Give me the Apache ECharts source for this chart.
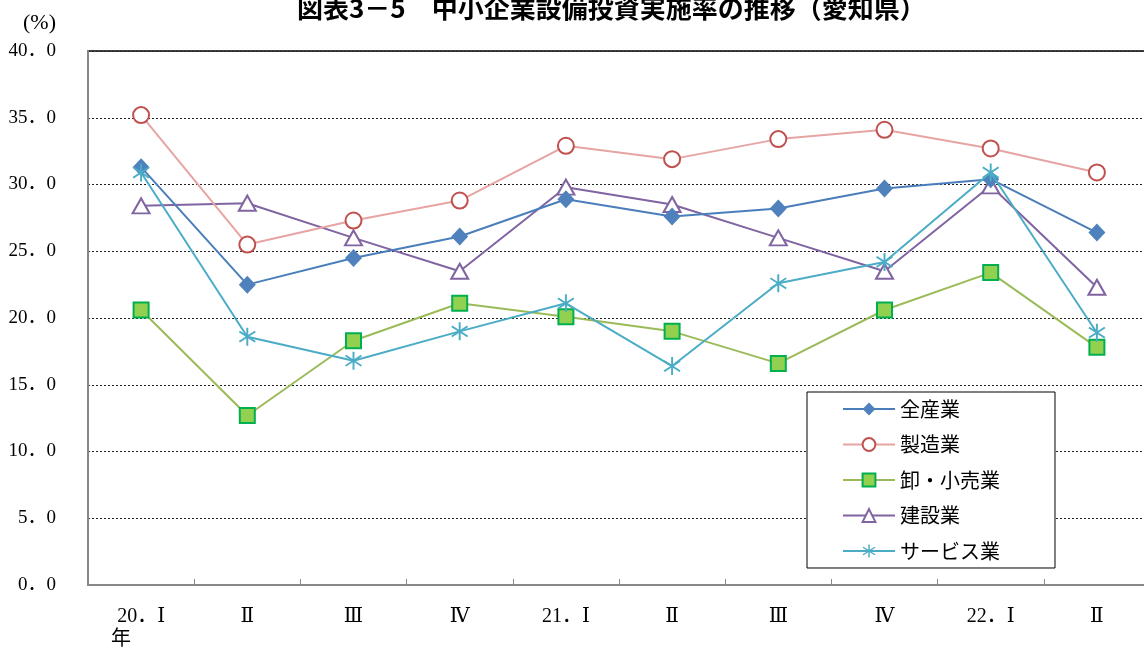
<!DOCTYPE html>
<html><head><meta charset="utf-8">
<script src="https://cdn.jsdelivr.net/npm/echarts@6/dist/echarts.min.js"></script>
<style>html,body{margin:0;padding:0;background:#fff}#c{width:1144px;height:648px}</style>
</head><body><div id="c"></div>
<script>
const titleText = '図表3－5　中小企業設備投資実施率の推移（愛知県）';
const unitText = '(%)';
const categories = ['20．Ⅰ\n年　　', 'Ⅱ', 'Ⅲ', 'Ⅳ', '21．Ⅰ', 'Ⅱ', 'Ⅲ', 'Ⅳ', '22．Ⅰ', 'Ⅱ'];
const seriesNames = ['全産業', '製造業', '卸・小売業', '建設業', 'サービス業'];
const allIndustry   = [31.3, 22.5, 24.5, 26.1, 28.9, 27.6, 28.2, 29.7, 30.4, 26.4];
const manufacturing = [35.2, 25.5, 27.3, 28.8, 32.9, 31.9, 33.4, 34.1, 32.7, 30.9];
const wholesale     = [20.6, 12.7, 18.3, 21.1, 20.1, 19.0, 16.6, 20.6, 23.4, 17.8];
const construction  = [28.4, 28.6, 26.0, 23.5, 29.8, 28.5, 26.0, 23.5, 29.9, 22.3];
const services      = [30.9, 18.6, 16.8, 19.0, 21.1, 16.4, 22.6, 24.2, 30.9, 18.9];
const yMin = 0, yMax = 40, yStep = 5;

const asterisk = 'path://M45 0L55 0L55 100L45 100Z' +
  'M11.91 82.78L6.17 74.58L88.09 17.22L93.83 25.42Z' +
  'M6.17 25.42L11.91 17.22L93.83 74.58L88.09 82.78Z';

const serifFont = '"Liberation Serif","DejaVu Serif","Noto Sans CJK JP",serif';
const chart = echarts.init(document.getElementById('c'), null, {renderer: 'canvas'});
chart.setOption({
  animation: false,
  backgroundColor: '#fff',
  title: [
    {text: titleText, left: 292, top: -10,
     textStyle: {fontSize: 26, fontWeight: 'bold', color: '#000', fontFamily: '"Noto Sans CJK JP",sans-serif'}},
    {text: unitText, left: 18, top: 7,
     textStyle: {fontSize: 22, fontWeight: 'normal', color: '#000', fontFamily: serifFont}}
  ],
  grid: {left: 88, top: 51, width: 1062, height: 534, show: true, borderColor: '#000', borderWidth: 1.5,
         containLabel: false, outerBoundsMode: 'none'},
  legend: {
    orient: 'vertical', left: 807, top: 392,
    padding: [7, 55, 7, 35], itemWidth: 52, itemHeight: 16, itemGap: 15.5, itemTextGap: 5,
    backgroundColor: '#fff', borderColor: '#000', borderWidth: 1,
    textStyle: {fontSize: 20, color: '#000', fontFamily: '"Noto Sans CJK JP",sans-serif'},
    data: seriesNames
  },
  xAxis: {
    type: 'category', data: categories, boundaryGap: true,
    axisLine: {lineStyle: {color: '#888', width: 2}},
    axisTick: {show: true, inside: true, length: 6, lineStyle: {color: '#888'}},
    axisLabel: {margin: 20, fontSize: 20, color: '#000', fontFamily: serifFont, lineHeight: 23, interval: 0}
  },
  yAxis: {
    type: 'value', min: yMin, max: yMax, interval: yStep,
    axisLine: {show: true, lineStyle: {color: '#888', width: 2}},
    axisTick: {show: false},
    splitLine: {show: true, lineStyle: {color: '#222', type: [2, 2], width: 1}},
    axisLabel: {margin: 32, fontSize: 19, color: '#000', fontFamily: serifFont,
      formatter: v => v.toFixed(1).replace('.', '．')}
  },
  series: [
    {name: seriesNames[0], type: 'line', data: allIndustry, symbol: 'diamond', symbolSize: [17, 18],
     lineStyle: {color: '#4A7EBB', width: 2}, itemStyle: {color: '#4F81BD', borderWidth: 0}, z: 5},
    {name: seriesNames[1], type: 'line', data: manufacturing, symbol: 'circle', symbolSize: 16,
     lineStyle: {color: '#E6A4A3', width: 2}, itemStyle: {color: '#fff', borderColor: '#C0504D', borderWidth: 2}, z: 4},
    {name: seriesNames[2], type: 'line', data: wholesale, symbol: 'rect', symbolSize: 15,
     lineStyle: {color: '#9BBB59', width: 2}, itemStyle: {color: '#92D050', borderColor: '#00B050', borderWidth: 2}, z: 3},
    {name: seriesNames[3], type: 'line', data: construction, symbol: 'triangle', symbolSize: [17, 15],
     lineStyle: {color: '#8064A2', width: 2}, itemStyle: {color: '#fff', borderColor: '#8064A2', borderWidth: 2}, z: 2},
    {name: seriesNames[4], type: 'line', data: services, symbol: asterisk, symbolSize: [17, 18],
     lineStyle: {color: '#4BACC6', width: 2}, itemStyle: {color: '#4BACC6', borderWidth: 0}, z: 6}
  ]
});
</script></body></html>
